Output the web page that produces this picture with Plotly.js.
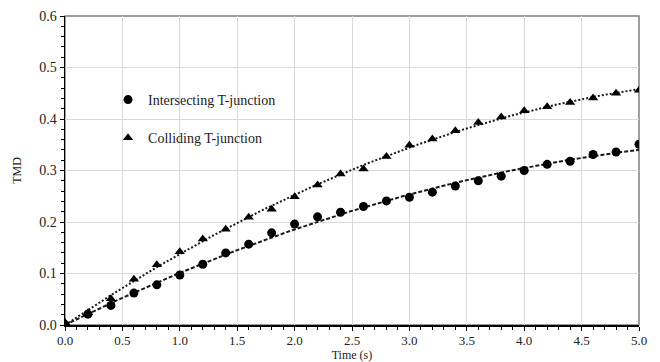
<!DOCTYPE html>
<html>
<head>
<meta charset="utf-8">
<script src="https://cdn.plot.ly/plotly-3.0.1.min.js"></script>
<style>
html,body{margin:0;padding:0;background:#fff;}
#chart{width:660px;height:362px;}
</style>
</head>
<body>
<div id="chart"></div>
<script>
// ---- data ----
var time = [0.0,0.2,0.4,0.6,0.8,1.0,1.2,1.4,1.6,1.8,2.0,2.2,2.4,2.6,2.8,3.0,3.2,3.4,3.6,3.8,4.0,4.2,4.4,4.6,4.8,5.0];
var intersecting = [0.000,0.021,0.038,0.062,0.078,0.097,0.118,0.140,0.157,0.179,0.196,0.210,0.219,0.230,0.241,0.248,0.258,0.270,0.280,0.289,0.300,0.312,0.318,0.331,0.336,0.351];
var colliding = [0.005,0.024,0.051,0.089,0.117,0.142,0.167,0.186,0.209,0.225,0.249,0.272,0.293,0.303,0.327,0.349,0.361,0.377,0.393,0.404,0.416,0.424,0.432,0.441,0.450,0.456];
var seriesNames = ["Intersecting T-junction","Colliding T-junction"];
var xTickVals = [0,0.5,1,1.5,2,2.5,3,3.5,4,4.5,5];
var yTickVals = [0,0.1,0.2,0.3,0.4,0.5,0.6];

// ---- polynomial (order 2) least-squares trendline, computed from data ----
function polyFit2(x, y){
  var n=x.length, s=[0,0,0,0,0], t=[0,0,0];
  for(var i=0;i<n;i++){
    var p=1;
    for(var k=0;k<5;k++){ s[k]+=p; if(k<3) t[k]+=p*y[i]; p*=x[i]; }
  }
  var A=[[s[0],s[1],s[2],t[0]],[s[1],s[2],s[3],t[1]],[s[2],s[3],s[4],t[2]]];
  for(var c=0;c<3;c++){
    for(var r=c+1;r<3;r++){
      var f=A[r][c]/A[c][c];
      for(var k2=c;k2<4;k2++) A[r][k2]-=f*A[c][k2];
    }
  }
  var b=[0,0,0];
  for(var r2=2;r2>=0;r2--){
    var v=A[r2][3];
    for(var k3=r2+1;k3<3;k3++) v-=A[r2][k3]*b[k3];
    b[r2]=v/A[r2][r2];
  }
  return b;
}
function trend(x,y){
  var b=polyFit2(x,y), xs=[], ys=[];
  var x0=x[0], x1=x[x.length-1];
  for(var i=0;i<=100;i++){
    var xv=x0+(x1-x0)*i/100;
    xs.push(xv); ys.push(b[0]+b[1]*xv+b[2]*xv*xv);
  }
  return {x:xs,y:ys};
}
var tI = trend(time,intersecting), tC = trend(time,colliding);

var serif = "'Liberation Serif','Times New Roman',serif";

var traces = [
  {x:tI.x, y:tI.y, mode:'lines', line:{color:'#1a1a1a', width:2, dash:'4px,2px'}, showlegend:false, hoverinfo:'skip'},
  {x:tC.x, y:tC.y, mode:'lines', line:{color:'#1a1a1a', width:2, dash:'2px,2px'}, showlegend:false, hoverinfo:'skip'},
  {x:time, y:intersecting, name:seriesNames[0], mode:'markers', legendgroup:'a',
   marker:{symbol:'circle', size:9, color:'#000'}},
  {x:time, y:colliding, name:seriesNames[1], mode:'markers', legendgroup:'b',
   marker:{symbol:'triangle-up', size:9, color:'#000'}}
];

var layout = {
  width:660, height:362,
  margin:{l:65, r:21, t:16, b:37},
  paper_bgcolor:'#fff', plot_bgcolor:'#fff',
  font:{family:serif, color:'#222'},
  showlegend:true,
  legend:{x:0.075, y:0.78, xanchor:'left', yanchor:'top', bgcolor:'rgba(0,0,0,0)',
          font:{family:serif, size:14, color:'#222'}, traceorder:'grouped', tracegroupgap:17,
          itemwidth:30},
  xaxis:{range:[0,5], tickvals:xTickVals, tickformat:'.1f', showgrid:true, gridcolor:'#d9d9d9', gridwidth:1,
         zeroline:false, showline:true, linecolor:'#000', linewidth:1.5, ticks:'outside', ticklen:4, tickcolor:'#000',
         tickfont:{family:serif, size:13, color:'#222'}, ticklabelstandoff:-1,
         minor:{dtick:0.1, ticks:'outside', ticklen:3, tickcolor:'#000', showgrid:false},
         title:{text:'Time (s)', font:{family:serif, size:12, color:'#222'}, standoff:6}, fixedrange:true},
  yaxis:{range:[0,0.6], tickvals:yTickVals, tickformat:'.1f', showgrid:true, gridcolor:'#d9d9d9', gridwidth:1,
         zeroline:false, showline:true, linecolor:'#000', linewidth:1.5, ticks:'outside', ticklen:4, tickcolor:'#000',
         tickfont:{family:serif, size:14, color:'#222'},
         minor:{dtick:0.02, ticks:'outside', ticklen:3, tickcolor:'#000', showgrid:false},
         title:{text:'TMD', font:{family:serif, size:12, color:'#222'}, standoff:15}, fixedrange:true},
  shapes:[{type:'rect', xref:'paper', yref:'paper', x0:0, x1:1, y0:0, y1:1, line:{color:'#7f7f7f', width:1.5}, layer:'below'}]
};

Plotly.newPlot('chart', traces, layout, {displayModeBar:false, staticPlot:true});
</script>
</body>
</html>
